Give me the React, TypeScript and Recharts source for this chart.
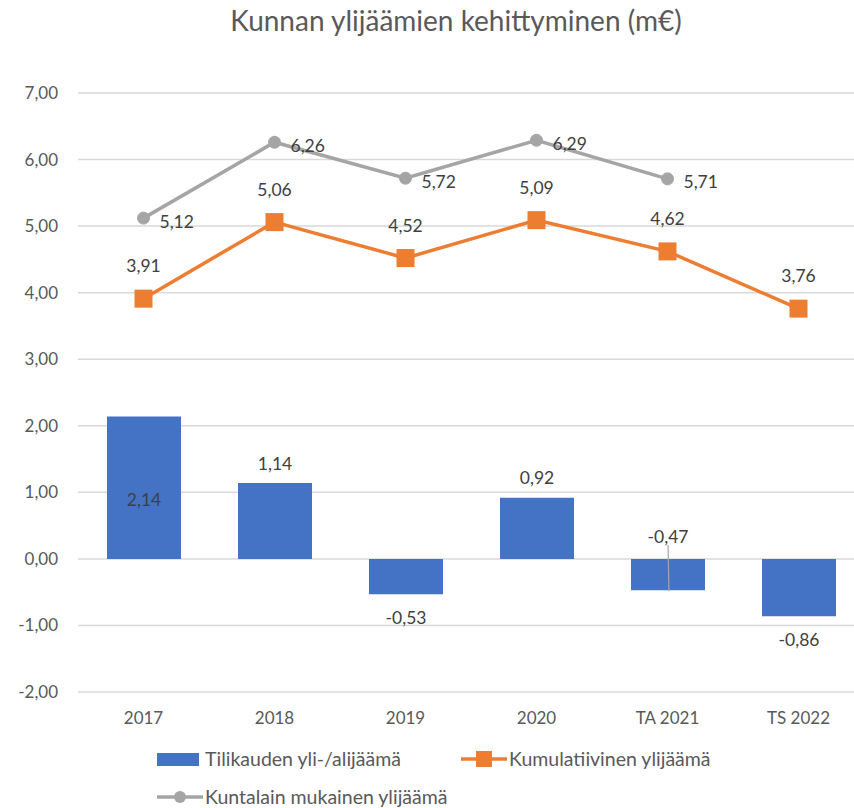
import React from "react";
import {
  ComposedChart,
  CartesianGrid,
  XAxis,
  YAxis,
  Bar,
  Line,
} from "recharts";

const categories = ["2017", "2018", "2019", "2020", "TA 2021", "TS 2022"];
const tilikaudenYlijaama = [2.14, 1.14, -0.53, 0.92, -0.47, -0.86];
const kumulatiivinenYlijaama = [3.91, 5.06, 4.52, 5.09, 4.62, 3.76];
const kuntalainYlijaama = [5.12, 6.26, 5.72, 6.29, 5.71, null];
const yTicks = [-2, -1, 0, 1, 2, 3, 4, 5, 6, 7];

const data = categories.map((name, i) => ({
  name,
  tilikausi: tilikaudenYlijaama[i],
  kumulatiivinen: kumulatiivinenYlijaama[i],
  kuntalain: kuntalainYlijaama[i],
}));

const FONT = "Lato, 'Liberation Sans', sans-serif";
const fmt = (v: number) => v.toFixed(2).replace(".", ",");

const BarLabel = (props: any) => {
  const { x, y, width, height, value, index } = props;
  if (value == null) return null;
  const top = Math.min(y, y + height);
  const bottom = Math.max(y, y + height);
  const cx = x + width / 2;
  let ty: number;
  let leader = null;
  if (index === 0) {
    ty = top + 83;
  } else if (index === 4) {
    ty = top - 22;
    leader = (
      <line x1={cx} y1={top - 14} x2={cx + 1} y2={bottom + 1} stroke="#a6a6a6" strokeWidth={1.2} />
    );
  } else if (value >= 0) {
    ty = top - 20;
  } else {
    ty = bottom + 23;
  }
  return (
    <g>
      {leader}
      <text
        x={cx}
        y={ty}
        textAnchor="middle"
        dominantBaseline="central"
        fill="#404040"
        fontSize={17.5}
        fontFamily={FONT}
      >
        {fmt(value)}
      </text>
    </g>
  );
};

const OrangeLabel = (props: any) => {
  const { x, y, value } = props;
  if (value == null) return null;
  return (
    <text x={x} y={y - 33} textAnchor="middle" dominantBaseline="central" fill="#404040" fontSize={17.5} fontFamily={FONT}>
      {fmt(value)}
    </text>
  );
};

const GrayLabel = (props: any) => {
  const { x, y, value } = props;
  if (value == null) return null;
  return (
    <text x={x + 16} y={y + 3} textAnchor="start" dominantBaseline="central" fill="#404040" fontSize={17.5} fontFamily={FONT}>
      {fmt(value)}
    </text>
  );
};

const SquareDot = (props: any) => {
  const { cx, cy } = props;
  if (cx == null || cy == null) return null;
  return <rect x={cx - 9} y={cy - 9} width={18} height={18} fill="#ED7D31" />;
};

const legendText: React.CSSProperties = {
  position: "absolute",
  fontFamily: FONT,
  fontSize: 19.5,
  color: "#595959",
  lineHeight: "22px",
  whiteSpace: "nowrap",
};

export default function App() {
  return (
    <div style={{ position: "absolute", left: 0, top: 0, width: 854, height: 808, overflow: "hidden", background: "#fff" }}>
      <div
        style={{
          position: "absolute",
          left: 0,
          width: 912,
          top: 3,
          textAlign: "center",
          fontFamily: FONT,
          fontSize: 28,
          color: "#595959",
        }}
      >
        Kunnan ylijäämien kehittyminen (m€)
      </div>
      <ComposedChart
        width={870}
        height={808}
        data={data}
        margin={{ top: 93, right: 6, bottom: 86, left: 0 }}
      >
        <CartesianGrid vertical={false} stroke="#d9d9d9" strokeWidth={1.5} />
        <XAxis
          dataKey="name"
          axisLine={false}
          tickLine={false}
          height={30}
          tick={{ fill: "#595959", fontSize: 17, fontFamily: FONT }}
          tickMargin={14}
        />
        <YAxis
          domain={[-2, 7]}
          ticks={yTicks}
          width={78}
          axisLine={false}
          tickLine={false}
          tickFormatter={fmt}
          tick={{ fill: "#595959", fontSize: 17, fontFamily: FONT }}
          tickMargin={14}
        />
        <Bar dataKey="tilikausi" fill="#4472C4" barSize={74} isAnimationActive={false} label={<BarLabel />} />
        <Line
          dataKey="kumulatiivinen"
          stroke="#ED7D31"
          strokeWidth={3.5}
          dot={<SquareDot />}
          activeDot={false}
          isAnimationActive={false}
          label={<OrangeLabel />}
        />
        <Line
          dataKey="kuntalain"
          stroke="#A5A5A5"
          strokeWidth={3.5}
          dot={{ r: 6, fill: "#A5A5A5", stroke: "#A5A5A5", strokeWidth: 1 }}
          activeDot={false}
          isAnimationActive={false}
          label={<GrayLabel />}
        />
      </ComposedChart>
      {/* legend */}
      <svg style={{ position: "absolute", left: 0, top: 0 }} width={854} height={808}>
        <rect x={157} y={753} width={42} height={13} fill="#4472C4" />
        <line x1={461} y1={759} x2={507} y2={759} stroke="#ED7D31" strokeWidth={3.5} />
        <rect x={476} y={751} width={16} height={16} fill="#ED7D31" />
        <line x1={157} y1={797} x2={203} y2={797} stroke="#A5A5A5" strokeWidth={3.5} />
        <circle cx={180} cy={797} r={6} fill="#A5A5A5" />
      </svg>
      <div style={{ ...legendText, left: 205, top: 748 }}>Tilikauden yli-/alijäämä</div>
      <div style={{ ...legendText, left: 509, top: 748 }}>Kumulatiivinen ylijäämä</div>
      <div style={{ ...legendText, left: 205, top: 786 }}>Kuntalain mukainen ylijäämä</div>
    </div>
  );
}
